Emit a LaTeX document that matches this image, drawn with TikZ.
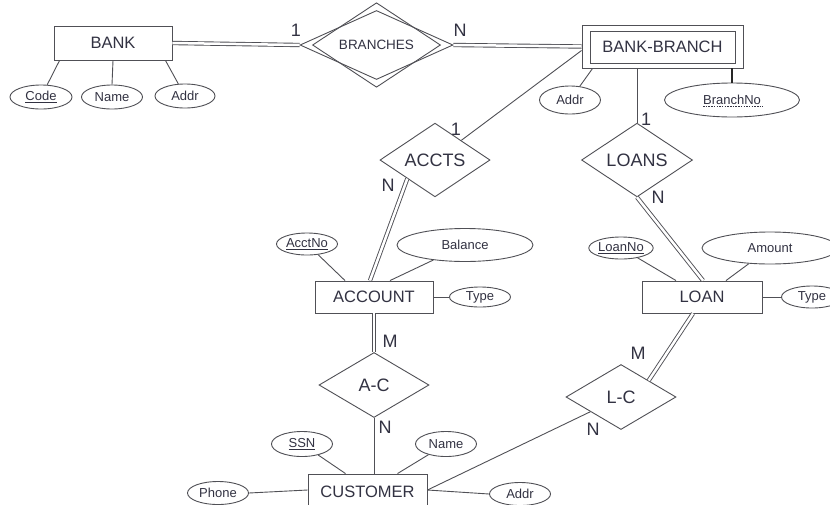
\documentclass[tikz,border=0pt]{standalone}
\usepackage{fontspec}
\setmainfont{Liberation Sans}
\usetikzlibrary{shapes.geometric}
\definecolor{ln}{RGB}{80,80,86}
\definecolor{tx}{RGB}{50,50,66}
\begin{document}
\begin{tikzpicture}[x=1pt,y=-1pt,
  every node/.style={text=tx, inner sep=0pt},
  ent/.style={draw=ln, line width=0.9pt, rectangle, font=\fontsize{16.5}{18}\selectfont},
  rel/.style={draw=ln, line width=0.9pt, diamond, font=\fontsize{18}{20}\selectfont},
  att/.style={draw=ln, line width=0.9pt, ellipse, font=\fontsize{13}{15}\selectfont},
  card/.style={font=\fontsize{18}{20}\selectfont},
  conn/.style={draw=ln, line width=0.9pt},
  dconn/.style={draw=ln, line width=0.9pt, double=white, double distance=2.5pt},
]
\useasboundingbox[fill=white] (0,0) rectangle (830,504);

% entities
\node[ent, minimum width=118, minimum height=34] (bank) at (113,43) {BANK};
\node[draw=ln, line width=0.9pt, rectangle, minimum width=161, minimum height=43] (bbout) at (662.5,46.5) {};
\node[ent, minimum width=145, minimum height=32] (bb) at (662.5,47) {BANK-BRANCH};
\node[ent, minimum width=118, minimum height=32] (account) at (374,297) {ACCOUNT};
\node[ent, minimum width=120, minimum height=32] (loan) at (702,297) {LOAN};
\node[ent, minimum width=119, minimum height=36] (customer) at (367.5,492) {CUSTOMER};

% relationships
\node[draw=ln, line width=0.9pt, diamond, minimum width=153, minimum height=69] (brout) at (376.5,45) {};
\node[draw=ln, line width=0.9pt, diamond, minimum width=128, minimum height=56, font=\fontsize{13.5}{15}\selectfont] (branches) at (376.5,45) {BRANCHES};
\node[rel, minimum width=110, minimum height=66] (accts) at (435,160) {ACCTS};
\node[rel, minimum width=111, minimum height=64] (loans) at (637,160) {LOANS};
\node[rel, minimum width=110, minimum height=65] (ac) at (374,385) {A-C};
\node[rel, minimum width=110, minimum height=65] (lc) at (621,397) {L-C};

% attributes
\node[att, minimum width=62, minimum height=24] (code) at (41,97) {\underline{Code}};
\node[att, minimum width=61, minimum height=24] (name1) at (112,97) {Name};
\node[att, minimum width=60, minimum height=24] (addr1) at (185,96) {Addr};
\node[att, minimum width=61, minimum height=28] (addr2) at (570,100) {Addr};
\node[att, minimum width=135, minimum height=34] (branchno) at (732,100) {BranchNo};
\node[att, minimum width=61, minimum height=22] (acctno) at (307,244) {\underline{AcctNo}};
\node[att, minimum width=136, minimum height=33] (balance) at (465,245) {Balance};
\node[att, minimum width=61, minimum height=20] (type1) at (480,297) {Type};
\node[att, minimum width=61, minimum height=22] (loanno) at (621,248) {\underline{LoanNo}};
\node[att, minimum width=136, minimum height=32] (amount) at (770,248) {Amount};
\node[att, minimum width=61, minimum height=22] (type2) at (812,297) {Type};
\node[att, minimum width=61, minimum height=25] (ssn) at (302,444) {\underline{SSN}};
\node[att, minimum width=61, minimum height=25] (name2) at (446,444) {Name};
\node[att, minimum width=61, minimum height=23] (phone) at (218,493) {Phone};
\node[att, minimum width=61, minimum height=23] (addr3) at (520,494) {Addr};

% dashed underline of the partial key
\draw[draw=tx, line width=0.6pt, dash pattern=on 1.5pt off 1.2pt]
  ([shift={(-29pt,-6.5pt)}]branchno.center) -- ([shift={(31pt,-6.5pt)}]branchno.center);

% connectors: double (total participation)
\draw[dconn] (bank.east) -- (brout.west);
\draw[dconn] (brout.east) -- (bbout.west);
\draw[dconn] (accts.south west) -- ([xshift=-4pt]account.north);
\draw[dconn] (loans.south) -- ([xshift=1pt]loan.north);
\draw[dconn] (account.south) -- (ac.north);
\draw[dconn] ([xshift=-9pt]loan.south) -- (lc.north east);

% connectors: single
\draw[conn] ([yshift=-4pt]bbout.west) -- (accts);
\draw[conn] (bbout.south -| loans.north) -- (loans.north);
\draw[conn] (ac.south) -- (ac.south |- customer.north);
\draw[conn] ([yshift=2pt]customer.east) -- (lc);

% attribute links
\draw[conn] ([xshift=6pt]bank.south west) -- (code);
\draw[conn] (bank.south) -- (name1.north);
\draw[conn] ([xshift=-7pt]bank.south east) -- (addr1);
\draw[conn] ([xshift=11pt]bbout.south west) -- (addr2);
\draw[draw=black!85, line width=2pt] (bbout.south -| branchno.north) -- (branchno.north);
\draw[conn] ([xshift=-29pt]account.north) -- (acctno);
\draw[conn] ([xshift=16pt]account.north) -- (balance);
\draw[conn] (account.east) -- (type1.west);
\draw[conn] ([xshift=-26pt]loan.north) -- (loanno);
\draw[conn] ([xshift=24pt]loan.north) -- (amount);
\draw[conn] (loan.east) -- (type2.west);
\draw[conn] ([xshift=-22pt]customer.north) -- (ssn);
\draw[conn] ([xshift=30pt]customer.north) -- (name2);
\draw[conn] ([yshift=2pt]customer.west) -- (phone.east);
\draw[conn] ([yshift=2pt]customer.east) -- (addr3.west);

% cardinalities
\node[card] (c1) at (296,30) {1};
\node[card] (c2) at (460,30) {N};
\node[card] (c3) at (456,129) {1};
\node[card] (c4) at (388,185) {N};
\node[card] (c5) at (646,119) {1};
\node[card] (c6) at (658,197) {N};
\node[card] (c7) at (390,341) {M};
\node[card] (c8) at (385,427) {N};
\node[card] (c9) at (638,353) {M};
\node[card] (c10) at (593,429) {N};
\end{tikzpicture}
\end{document}
